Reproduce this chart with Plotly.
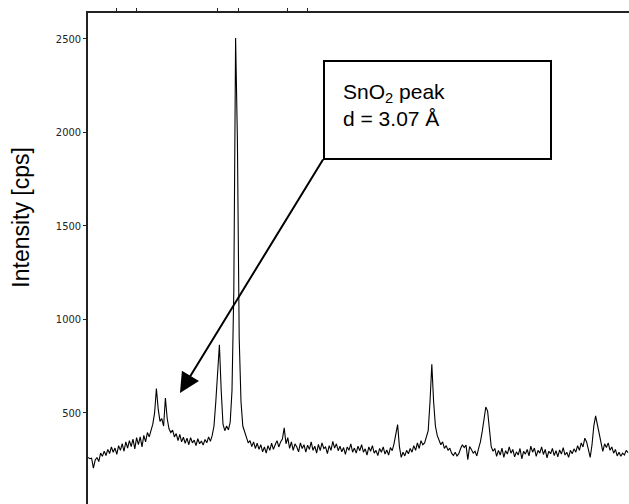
import plotly.graph_objects as go

# 2-theta grid (degrees), 0.2 deg steps from 20 to 80
two_theta = [round(20.0 + 0.2 * i, 1) for i in range(301)]

# Measured intensity (cps) at each 2-theta step
intensity = [
    262, 255, 258, 205, 248, 262, 240, 285, 268, 296,
    272, 305, 283, 318, 290, 312, 278, 325, 300, 336,
    295, 345, 312, 352, 320, 360, 308, 368, 330, 372,
    318, 380, 345, 395, 372, 410, 440, 500, 630, 520,
    455, 470, 430, 580, 470, 415, 395, 408, 372, 390,
    352, 385, 345, 370, 338, 365, 330, 368, 340, 355,
    325, 362, 335, 350, 328, 358, 340, 372, 348, 380,
    430, 560, 740, 865, 620, 440, 405, 430, 410, 450,
    620, 1150, 2505, 1960, 900, 560, 430, 395, 370, 340,
    352, 320, 345, 310, 338, 305, 330, 292, 318, 285,
    325, 300, 338, 305, 330, 352, 318, 345, 360, 420,
    335, 368, 310, 345, 300, 335, 318, 292, 340, 310,
    330, 290, 328, 305, 345, 300, 322, 285, 332, 298,
    340, 310, 318, 282, 325, 300, 348, 312, 335, 298,
    322, 292, 315, 278, 318, 300, 335, 290, 312, 285,
    322, 298, 330, 290, 308, 275, 318, 295, 325, 285,
    300, 272, 310, 290, 318, 280, 302, 275, 315, 298,
    335, 380, 438, 320, 262, 290, 270, 300, 282, 310,
    290, 325, 300, 340, 310, 352, 330, 340, 380, 405,
    560, 760, 560, 430, 380, 350, 330, 345, 310, 325,
    300, 312, 285, 272, 290, 270, 282, 310, 330, 315,
    328, 250, 320, 305, 285, 295, 270, 310, 345, 400,
    480, 532, 510, 390, 320, 295, 310, 268, 300, 275,
    312, 262, 298, 280, 318, 285, 305, 265, 292, 275,
    310, 255, 295, 280, 305, 270, 322, 290, 312, 268,
    300, 285, 318, 278, 305, 260, 295, 282, 310, 272,
    298, 265, 302, 280, 315, 275, 290, 262, 300, 282,
    308, 290, 325, 300, 340, 318, 365, 345, 300, 262,
    330, 430, 484, 440, 390, 340, 295, 335, 315, 340,
    300, 318, 285, 305, 270, 290, 268, 285, 275, 300,
    288,
]

# Y-axis ticks
y_ticks = [500, 1000, 1500, 2000, 2500]
y_tick_text = ["500", "1000", "1500", "2000", "2500"]

# Short marks along the top frame (2-theta, deg)
top_marks = [23.22, 25.44, 34.44, 36.67, 42.22, 44.44]

fig = go.Figure()
fig.add_trace(go.Scatter(
    x=two_theta, y=intensity, mode="lines",
    line=dict(color="black", width=1.1),
    hoverinfo="skip", showlegend=False,
))

fig.update_layout(
    width=629, height=504,
    margin=dict(l=88, r=0, t=13, b=0),
    paper_bgcolor="white", plot_bgcolor="white",
    xaxis=dict(
        range=[20.0, 80.11], side="top",
        showline=True, linecolor="#222", linewidth=1.5,
        ticks="outside", ticklen=3, tickcolor="#222",
        tickvals=top_marks, showticklabels=False,
        showgrid=False, zeroline=False,
    ),
    yaxis=dict(
        range=[13, 2639],
        showline=True, linecolor="#222", linewidth=1.5,
        ticks="outside", ticklen=3, tickcolor="#222",
        tickvals=y_ticks, ticktext=y_tick_text,
        tickfont=dict(family="DejaVu Sans Condensed, Liberation Sans Narrow, sans-serif",
                      size=11, color="#222"),
        showgrid=False, zeroline=False,
    ),
)

# Axis title
fig.add_annotation(
    text="Intensity [cps]", textangle=-90,
    xref="paper", yref="paper", x=-0.124, y=0.585,
    xanchor="center", yanchor="middle", showarrow=False,
    font=dict(family="Liberation Sans, Arial, sans-serif", size=23, color="black"),
)

# Peak label box
fig.add_annotation(
    text="SnO<sub>2</sub> peak<br>d = 3.07 Å",
    xref="x", yref="y", x=58.83, y=2120,
    xanchor="center", yanchor="middle", showarrow=False,
    align="left", valign="top",
    width=189, height=60, borderpad=18,
    bordercolor="black", borderwidth=2, bgcolor="white",
    font=dict(family="Liberation Sans, Arial, sans-serif", size=21, color="black"),
)

# Arrow from the box to the peak
fig.add_annotation(
    text="", x=30.22, y=607, ax=46.22, ay=1864,
    xref="x", yref="y", axref="x", ayref="y",
    showarrow=True, arrowhead=2, arrowsize=2, arrowwidth=2,
    arrowcolor="black",
)

fig.write_html("out.html")
